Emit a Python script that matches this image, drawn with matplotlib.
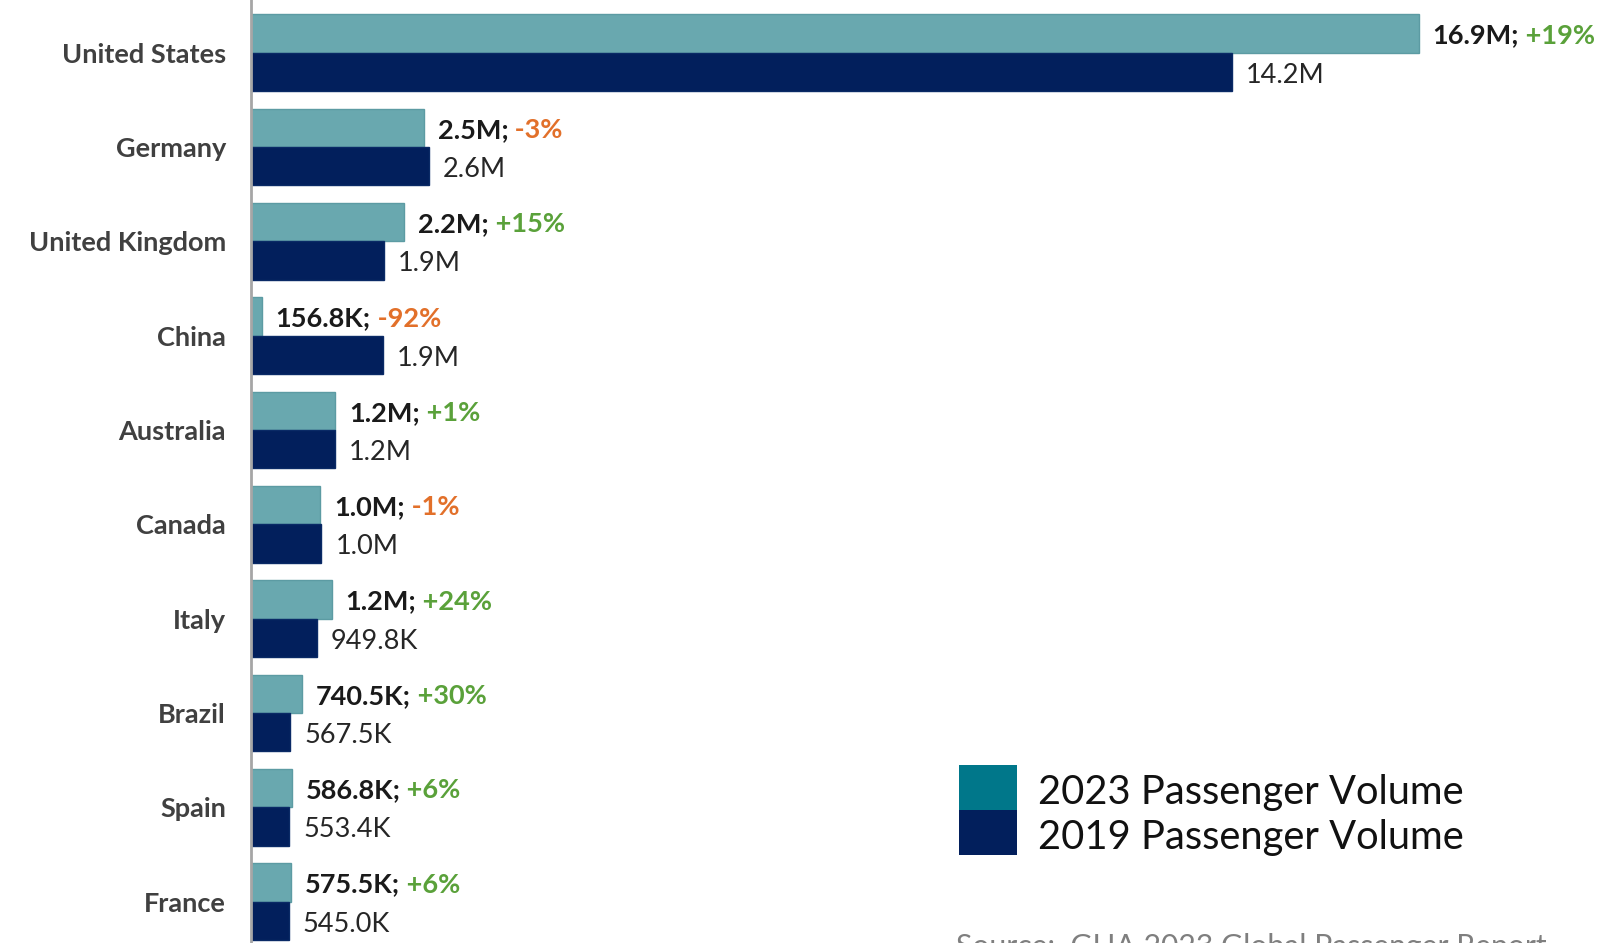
#--------------------- Importing the necessary libraries ---------------------------
import matplotlib
matplotlib.use("Agg")
import matplotlib.pyplot as plt
import numpy as np
from matplotlib.patches import Rectangle

#----------------------- Chart data ----------------------------
countries = ["United States", "Germany", "United Kingdom", "China", "Australia",
             "Canada", "Italy", "Brazil", "Spain", "France"]
# passenger volume in millions
volume_2023 = [16.9, 2.50, 2.22, 0.1568, 1.22, 1.00, 1.17, 0.7405, 0.5868, 0.5755]
volume_2019 = [14.2, 2.58, 1.92, 1.91, 1.21, 1.02, 0.9498, 0.5675, 0.5534, 0.5450]
pct_change = [19, -3, 15, -92, 1, -1, 24, 30, 6, 6]

legend_labels = ["2023 Passenger Volume", "2019 Passenger Volume"]
source_text = "Source:  GHA 2023 Global Passenger Report"

#----------------------- Styling ----------------------------
color_2023 = "#69A8AF"
edge_2023 = "#5C9BA3"
color_2019 = "#021F5C"
legend_2023 = "#00778A"
green = "#5AA13A"
orange = "#E2702A"
plt.rcParams["font.family"] = ["Lato", "DejaVu Sans"]


def fmt(v):
    # millions -> "2.5M" / "949.8K"
    if v >= 1:
        return f"{v:.1f}M"
    return f"{v * 1000:.1f}K"


W, H = 1603, 943
fig = plt.figure(figsize=(W / 100, H / 100), dpi=100)
left = 251 / W
ax = fig.add_axes([left, 0, 1 - left, 1])

y = np.arange(len(countries))
h = 0.406
ax.barh(y - h / 2, volume_2023, height=h, color=color_2023, edgecolor=edge_2023, linewidth=1)
ax.barh(y + h / 2, volume_2019, height=h, color=color_2019, edgecolor="#0A2A66", linewidth=1)

ax.set_xlim(0, 19.57)
ax.set_ylim(9.438, -0.558)

# value labels
for i in range(len(countries)):
    t1 = ax.annotate(fmt(volume_2023[i]) + ";", xy=(volume_2023[i], y[i] - h / 2),
                     xytext=(10, -1.5), textcoords="offset points",
                     ha="left", va="center", fontsize=19.5, fontweight="bold", color="#1A1A1A")
    p = pct_change[i]
    ax.annotate(f" {p:+d}%", xy=(1, 0), xycoords=t1, ha="left", va="bottom",
                fontsize=19.5, fontweight="bold", color=green if p >= 0 else orange)
    ax.annotate(fmt(volume_2019[i]), xy=(volume_2019[i], y[i] + h / 2),
                xytext=(10, -2.5), textcoords="offset points",
                ha="left", va="center", fontsize=19.5, color="#262626")

# axes styling
ax.set_yticks(y)
ax.set_yticklabels(countries, fontsize=19.5, fontweight="bold", color="#404040")
ax.tick_params(axis="y", length=0, pad=18)
ax.set_xticks([])
for s in ["top", "right", "bottom"]:
    ax.spines[s].set_visible(False)
ax.spines["left"].set_color("#A6A6A6")
ax.spines["left"].set_linewidth(2)

# legend drawn as stacked swatches
sw_x, sw_w, sw_h, top = 959 / W, 58 / W, 45 / H, 1 - 765 / H
for k, (lab, col) in enumerate(zip(legend_labels, [legend_2023, color_2019])):
    y0 = top - (k + 1) * sw_h
    fig.patches.append(Rectangle((sw_x, y0), sw_w, sw_h, transform=fig.transFigure,
                                 facecolor=col, edgecolor="none"))
    fig.text(1038 / W, y0 + sw_h / 2 - 5 / H, lab, ha="left", va="center",
             fontsize=28.7, color="#111111")

fig.text(956 / W, 1 - 933 / H, source_text, ha="left", va="top", fontsize=21.7, color="#7F7F7F")

plt.savefig("out.png", dpi=100)
